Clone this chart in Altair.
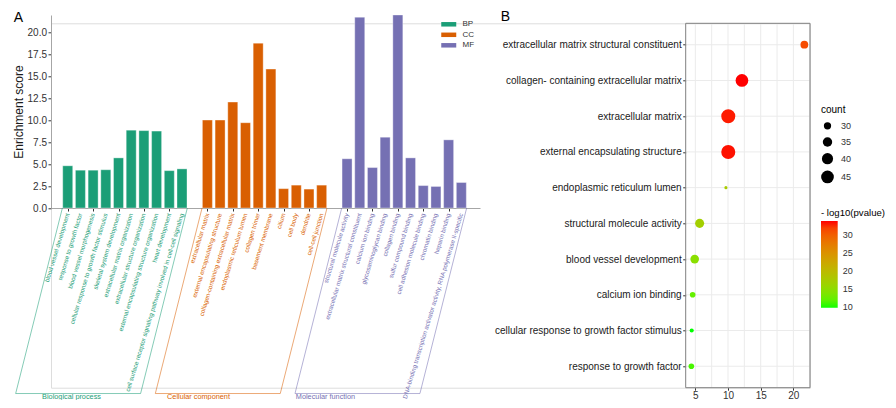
import json
import altair as alt
import pandas as pd

FONT = "Liberation Sans"

# ---------------- Panel A data ----------------
groups = ["BP", "CC", "MF"]
group_names = ["Biological process", "Cellular component", "Molecular function"]
group_colors = ["#1B9E77", "#D95F02", "#7570B3"]

bp_terms = [
    "blood vessel development",
    "response to growth factor",
    "blood vessel morphogenesis",
    "cellular response to growth factor stimulus",
    "skeletal system development",
    "extracellular matrix organization",
    "extracellular structure organization",
    "external encapsulating structure organization",
    "heart development",
    "cell surface receptor signaling pathway involved in cell-cell signaling",
]
bp_scores = [4.8, 4.3, 4.3, 4.35, 5.7, 8.85, 8.8, 8.75, 4.25, 4.45]

cc_terms = [
    "extracellular matrix",
    "external encapsulating structure",
    "collagen-containing extracellular matrix",
    "endoplasmic reticulum lumen",
    "collagen trimer",
    "basement membrane",
    "cilium",
    "cell body",
    "dendrite",
    "cell-cell junction",
]
cc_scores = [10.0, 10.0, 12.05, 9.7, 18.75, 15.8, 2.2, 2.6, 2.15, 2.6]

mf_terms = [
    "structural molecule activity",
    "extracellular matrix structural constituent",
    "calcium ion binding",
    "glycosaminoglycan binding",
    "collagen binding",
    "sulfur compound binding",
    "cell adhesion molecule binding",
    "chromatin binding",
    "heparin binding",
    "DNA-binding transcription activator activity, RNA polymerase II-specific",
]
mf_scores = [5.6, 21.7, 4.6, 8.05, 21.95, 5.7, 2.55, 2.45, 7.75, 2.9]

y_ticks_A = [0, 2.5, 5, 7.5, 10, 12.5, 15, 17.5, 20]

# ---------------- Panel B data ----------------
dot_terms = [
    "extracellular matrix structural constituent",
    "collagen- containing extracellular matrix",
    "extracellular matrix",
    "external encapsulating structure",
    "endoplasmic reticulum lumen",
    "structural molecule activity",
    "blood vessel development",
    "calcium ion binding",
    "cellular response to growth factor stimulus",
    "response to growth factor",
]
dot_score = [21.68, 12.13, 10.04, 10.04, 9.68, 5.66, 4.9, 4.59, 4.44, 4.39]
dot_count = [31, 45, 50, 50, 24, 34, 33, 27, 25, 27]
dot_logp = [31.5, 34.0, 33.6, 33.8, 17.6, 17.0, 14.7, 12.2, 9.83, 11.0]

x_ticks_B = [5, 10, 15, 20]
x_grid_B = [5, 7.5, 10, 12.5, 15, 17.5, 20, 22.5]
size_legend_vals = [30, 35, 40, 45]
color_legend_vals = [10, 15, 20, 25, 30]

# ---------------- layout constants ----------------
W, H = 759, 364.4          # whole plot group (page x 51..810, y 23.3..387.7)
A_W = 429                  # panel A plot width
A_Y0, A_Y1 = 184.7, -8.3   # panel A y range (pixels)
B_X0, B_X1 = 634.7, 759    # panel B x range (pixels)
SLANT = -3.68              # box slant in slots
Y_BOT = -21.1              # box bottom in data units
LEG_X = 770                # legends of panel B

rows = []
for gi, (g, terms, scores) in enumerate(zip(groups, [bp_terms, cc_terms, mf_terms],
                                            [bp_scores, cc_scores, mf_scores])):
    for j, (t, s) in enumerate(zip(terms, scores)):
        rows.append({"group": g, "term": t, "score": s, "slot": gi * 11 + j})
dfA = pd.DataFrame(rows)

box_rows = []
for gi, g in enumerate(groups):
    left, right = gi * 11 - 0.42, gi * 11 + 9 + 0.42
    pts = [(left, 0), (left + SLANT, Y_BOT), (right + SLANT, Y_BOT), (right, 0)]
    for k, (px, py) in enumerate(pts):
        box_rows.append({"group": g, "bx": px, "by": py, "k": k})
dfBox = pd.DataFrame(box_rows)

dfGL = pd.DataFrame({"group": groups, "name": group_names,
                     "lx": [gi * 10 + 0.3 for gi in range(len(groups))]})

colorA = alt.Scale(domain=groups, range=group_colors)
xA_scale = alt.Scale(domain=[-12 / 13, 417 / 13], range=[0, A_W], nice=False, zero=False)
yA_scale = alt.Scale(domain=[0, float(dfA.score.max())], range=[A_Y0, A_Y1], nice=False, zero=False)

bars = alt.Chart(dfA).mark_bar(size=10, stroke="white", strokeWidth=0.8, strokeOpacity=0.45,
                               clip=False).encode(
    x=alt.X("slot:Q", scale=xA_scale,
            axis=alt.Axis(orient="bottom", offset=-(H - A_Y0), values=list(dfA.slot), labels=False,
                          grid=False, tickSize=3, tickColor="#333333", domainColor="#A6A6A6",
                          title=None)),
    y=alt.Y("score:Q", scale=yA_scale,
            axis=alt.Axis(orient="left", values=y_ticks_A, format=".1f", grid=False, tickSize=3,
                          tickColor="#333333", domainColor="#A6A6A6", labelFontSize=10,
                          labelColor="#333333", labelPadding=1.5,
                          title="Enrichment score", titleFontSize=12, titleFontWeight="normal",
                          titleColor="#1a1a1a", titleAngle=270, titleAlign="center",
                          titleBaseline="middle", titleX=-32.5, titleY=(A_Y0 + A_Y1) / 2)),
    color=alt.Color("group:N", scale=colorA,
                    legend=alt.Legend(title=None, orient="none", legendX=393.75, legendY=-3,
                                      direction="vertical", symbolType="M-2,-0.6H2V0.6H-2Z",
                                      symbolSize=56.25, symbolStrokeWidth=0, labelFontSize=8,
                                      labelOffset=9.75, rowPadding=2.5, labelColor="#333333",
                                      padding=0)),
)

tick_labels = alt.Chart(dfA).mark_text(angle=287, align="right", baseline="middle", fontSize=6.2,
                                       font=FONT, yOffset=5.5, clip=False).encode(
    x="slot:Q", y=alt.datum(0), text="term:N",
    color=alt.Color("group:N", scale=colorA),
)

boxes = alt.Chart(dfBox).mark_line(strokeWidth=0.9, opacity=0.6, clip=False).encode(
    x="bx:Q", y="by:Q", order="k:Q", detail="group:N",
    color=alt.Color("group:N", scale=colorA),
)

group_labels = alt.Chart(dfGL).mark_text(fontSize=7.3, font=FONT, align="center", baseline="middle",
                                         yOffset=3.3, clip=False).encode(
    x="lx:Q", y=alt.datum(Y_BOT), text="name:N",
    color=alt.Color("group:N", scale=colorA),
)

letterA = alt.Chart(pd.DataFrame({"t": ["A"]})).mark_text(fontSize=14, font=FONT, color="#000000",
                                                          align="center", baseline="middle").encode(
    x=alt.value(-32.5), y=alt.value(-5.0), text="t:N")
letterB = alt.Chart(pd.DataFrame({"t": ["B"]})).mark_text(fontSize=14, font=FONT, color="#000000",
                                                          align="center", baseline="middle").encode(
    x=alt.value(454.5), y=alt.value(-6.8), text="t:N")

layerA = alt.layer(bars, boxes, tick_labels, group_labels, letterA, letterB)

# ---------------- Panel B ----------------
dfB = pd.DataFrame({"term": dot_terms, "score": dot_score, "count": dot_count,
                    "logp": dot_logp, "rank": list(range(1, len(dot_terms) + 1))})
span = max(dot_score) - min(dot_score)
xB_dom = [min(dot_score) - 0.05 * span, max(dot_score) + 0.05 * span]
yB_dom = [0.4, len(dot_terms) + 0.6]

xB_scale = alt.Scale(domain=xB_dom, range=[B_X0, B_X1], nice=False, zero=False)
yB_scale = alt.Scale(domain=yB_dom, reverse=True, nice=False, zero=False)

label_expr = json.dumps(dot_terms) + "[datum.value - 1]"

gridx = alt.Chart(pd.DataFrame({"gx": x_grid_B})).mark_rule(color="#EBEBEB", strokeWidth=1).encode(
    x=alt.X("gx:Q", scale=xB_scale,
            axis=alt.Axis(orient="bottom", values=x_ticks_B, grid=False, tickSize=2.5,
                          tickColor="#333333", domain=False, labelFontSize=10, labelColor="#333333",
                          labelPadding=0.5, title=None)),
    y=alt.datum(yB_dom[0]), y2=alt.datum(yB_dom[1]),
)
gridy = alt.Chart(dfB).mark_rule(color="#EBEBEB", strokeWidth=1).encode(
    y=alt.Y("rank:Q", scale=yB_scale,
            axis=alt.Axis(orient="left", offset=-B_X0, values=list(dfB["rank"]), labelExpr=label_expr,
                          grid=False, domain=False, tickSize=3, tickColor="#333333",
                          labelFontSize=10, labelColor="#1a1a1a", labelPadding=1.5, labelLimit=400,
                          title=None)),
    x=alt.datum(xB_dom[0]), x2=alt.datum(xB_dom[1]),
)
border = alt.Chart(pd.DataFrame({"a": [0]})).mark_rect(fillOpacity=0, stroke="#808080",
                                                       strokeWidth=1).encode(
    x=alt.datum(xB_dom[0]), x2=alt.datum(xB_dom[1]),
    y=alt.datum(yB_dom[0]), y2=alt.datum(yB_dom[1]),
)
points = alt.Chart(dfB).mark_circle(opacity=1).encode(
    x="score:Q", y="rank:Q",
    size=alt.Size("count:Q",
                  scale=alt.Scale(domain=[min(dot_count), max(dot_count)], range=[9.8, 197], zero=False),
                  legend=alt.Legend(title="count", orient="none", legendX=LEG_X, legendY=82,
                                    direction="vertical", values=size_legend_vals,
                                    symbolType="circle", symbolFillColor="#000000",
                                    symbolStrokeColor="#000000", symbolStrokeWidth=0,
                                    titleFontSize=10, titleFontWeight="normal", titleColor="#000000",
                                    labelFontSize=9, labelColor="#333333", labelOffset=7,
                                    rowPadding=5.7, titlePadding=6, padding=0)),
    color=alt.Color("logp:Q",
                    scale=alt.Scale(domain=[min(dot_logp), max(dot_logp)],
                                    range=["#00FF00", "#FF0000"], interpolate="lab"),
                    legend=alt.Legend(title="- log10(pvalue)", orient="none", legendX=LEG_X,
                                      legendY=184.2, direction="vertical", gradientLength=86.7,
                                      gradientThickness=16.7, gradientStrokeWidth=0,
                                      values=color_legend_vals, labelFontSize=9,
                                      labelColor="#333333", labelOffset=5, titleFontSize=9.6,
                                      titleFontWeight="normal", titleColor="#000000",
                                      titleLimit=200, titlePadding=4, padding=0)),
)

layerB = alt.layer(gridx, gridy, border, points)

chart = alt.layer(layerA, layerB).resolve_scale(
    x="independent", y="independent", color="independent", size="independent"
).properties(
    width=W, height=H,
    autosize=alt.AutoSizeParams(type="none"),
    padding={"left": 43, "top": 15.3, "right": 78, "bottom": 12.3},
).configure_view(stroke=None).configure(font=FONT).configure_axis(
    labelFont=FONT, titleFont=FONT).configure_legend(labelFont=FONT, titleFont=FONT)

chart.save("out.html", embed_options={"renderer": "svg", "actions": False})
